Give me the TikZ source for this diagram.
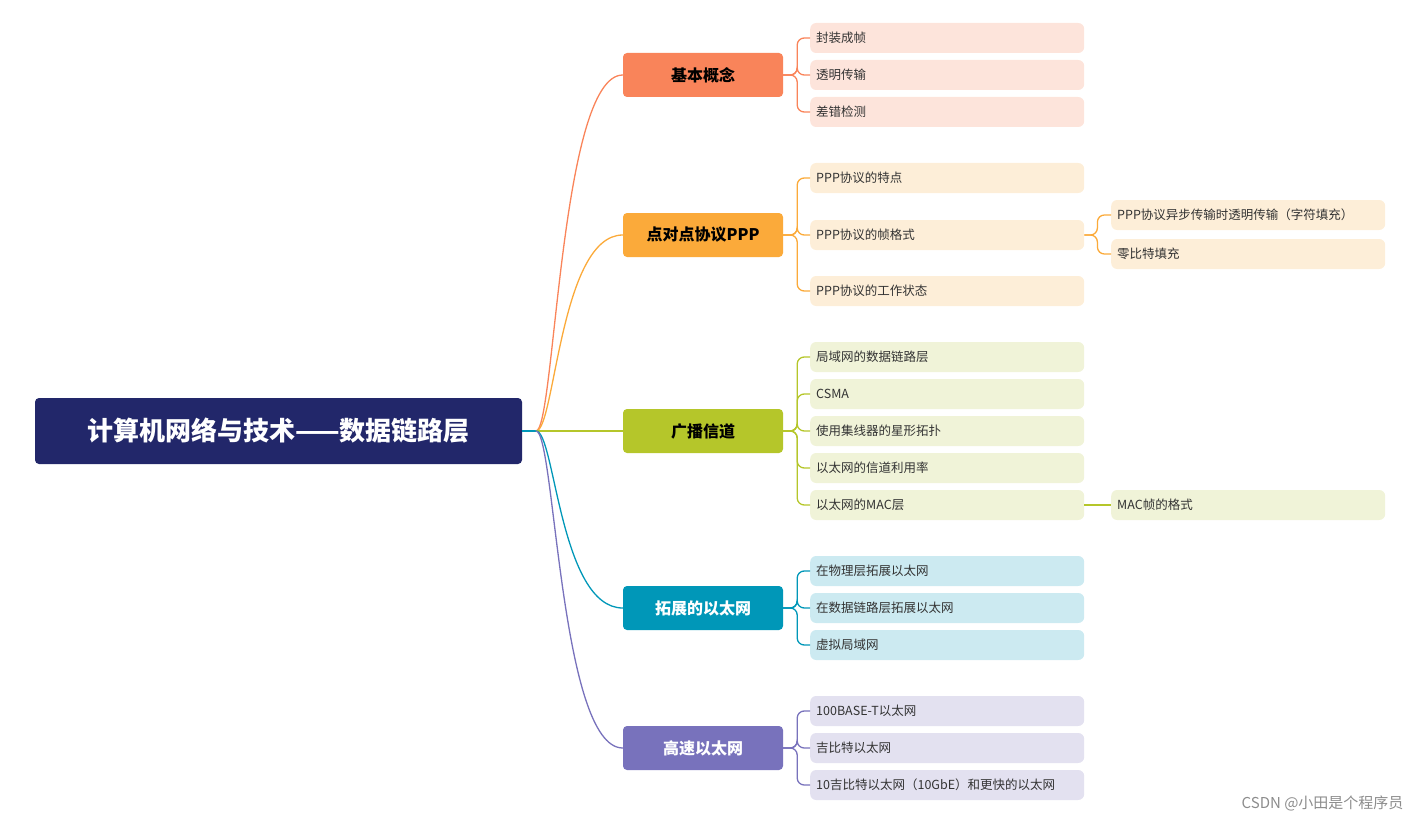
\documentclass[tikz,border=0pt]{standalone}
\usepackage{fontspec}
\usetikzlibrary{calc}
\setmainfont{Noto Sans CJK SC}
\definecolor{rootc}{HTML}{22276A}
\definecolor{cA}{HTML}{F9845A}\definecolor{lA}{HTML}{FDE4DB}
\definecolor{cB}{HTML}{FBAA3A}\definecolor{lB}{HTML}{FDEED8}
\definecolor{cC}{HTML}{B5C62A}\definecolor{lC}{HTML}{F0F3D8}
\definecolor{cD}{HTML}{0097B8}\definecolor{lD}{HTML}{CCEAF1}
\definecolor{cE}{HTML}{7872BC}\definecolor{lE}{HTML}{E3E1F0}
\tikzset{
 branch/.style={rounded corners=4pt,minimum width=160pt,minimum height=44pt,font=\fontsize{16}{18}\selectfont\bfseries,inner sep=0pt},
 leaf/.style={rounded corners=6pt,minimum height=30pt,text width=262pt,align=left,inner xsep=6pt,inner ysep=0pt,anchor=west,font=\fontsize{12.5}{14}\selectfont,text=black!80},
 con/.style={line width=1.3pt,rounded corners=7pt},
}
\begin{document}
\begin{tikzpicture}[x=1pt,y=-1pt]
\useasboundingbox (0,0) rectangle (1422,824);
\node[fill=rootc,rounded corners=4pt,minimum width=487pt,minimum height=66pt,text=white,font=\fontsize{26}{30}\selectfont\bfseries] (root) at (278.5,431) {计算机网络与技术——数据链路层};
\coordinate (hub) at (536,431);
\node[branch,fill=cA] (bA) at (703,75) {基本概念};
\node[branch,fill=cB] (bB) at (703,235) {点对点协议PPP};
\node[branch,fill=cC] (bC) at (703,431) {广播信道};
\node[branch,fill=cD,text=white] (bD) at (703,608) {拓展的以太网};
\node[branch,fill=cE,text=white] (bE) at (703,748) {高速以太网};
\draw[cD,line width=1.3pt] (root.east) -- (hub);
\foreach \b/\c in {bA/cA,bB/cB,bC/cC,bD/cD,bE/cE}
  \draw[\c,line width=1.3pt] (hub) .. controls (555,431) and ($(\b.west)+(-63,0)$) .. (\b.west);
% leaves
\foreach \n/\y/\t in {a1/38/封装成帧,a2/75/透明传输,a3/112/差错检测}
  \node[leaf,fill=lA] (\n) at (810,\y) {\t};
\foreach \n/\y/\t in {p1/178/PPP协议的特点,p2/235/PPP协议的帧格式,p3/291/PPP协议的工作状态}
  \node[leaf,fill=lB] (\n) at (810,\y) {\t};
\node[leaf,fill=lB] (q1) at (1111,215) {PPP协议异步传输时透明传输（字符填充）};
\node[leaf,fill=lB] (q2) at (1111,254) {零比特填充};
\foreach \n/\y/\t in {c1/357/局域网的数据链路层,c2/394/CSMA/CD协议,c3/431/使用集线器的星形拓扑,c4/468/以太网的信道利用率,c5/505/以太网的MAC层}
  \node[leaf,fill=lC] (\n) at (810,\y) {\t};
\node[leaf,fill=lC] (m1) at (1111,505) {MAC帧的格式};
\foreach \n/\y/\t in {d1/571/在物理层拓展以太网,d2/608/在数据链路层拓展以太网,d3/645/虚拟局域网}
  \node[leaf,fill=lD] (\n) at (810,\y) {\t};
\foreach \n/\y/\t in {e1/711/100BASE-T以太网,e2/748/吉比特以太网,e3/785/10吉比特以太网（10GbE）和更快的以太网}
  \node[leaf,fill=lE] (\n) at (810,\y) {\t};
% brackets
\foreach \l in {a1,a2,a3} \draw[con,cA] (bA.east) -- ++(14,0) |- (\l.west);
\foreach \l in {p1,p2,p3} \draw[con,cB] (bB.east) -- ++(14,0) |- (\l.west);
\foreach \l in {q1,q2} \draw[con,cB] (p2.east) -- ++(13,0) |- (\l.west);
\foreach \l in {c1,c2,c3,c4,c5} \draw[con,cC] (bC.east) -- ++(14,0) |- (\l.west);
\draw[con,cC] (c5.east) -- (m1.west);
\foreach \l in {d1,d2,d3} \draw[con,cD] (bD.east) -- ++(14,0) |- (\l.west);
\foreach \l in {e1,e2,e3} \draw[con,cE] (bE.east) -- ++(14,0) |- (\l.west);
\node[anchor=east,text=black!45,font=\fontsize{15}{17}\selectfont] (wm) at (1407,803) {CSDN @小田是个程序员};
\end{tikzpicture}
\end{document}
